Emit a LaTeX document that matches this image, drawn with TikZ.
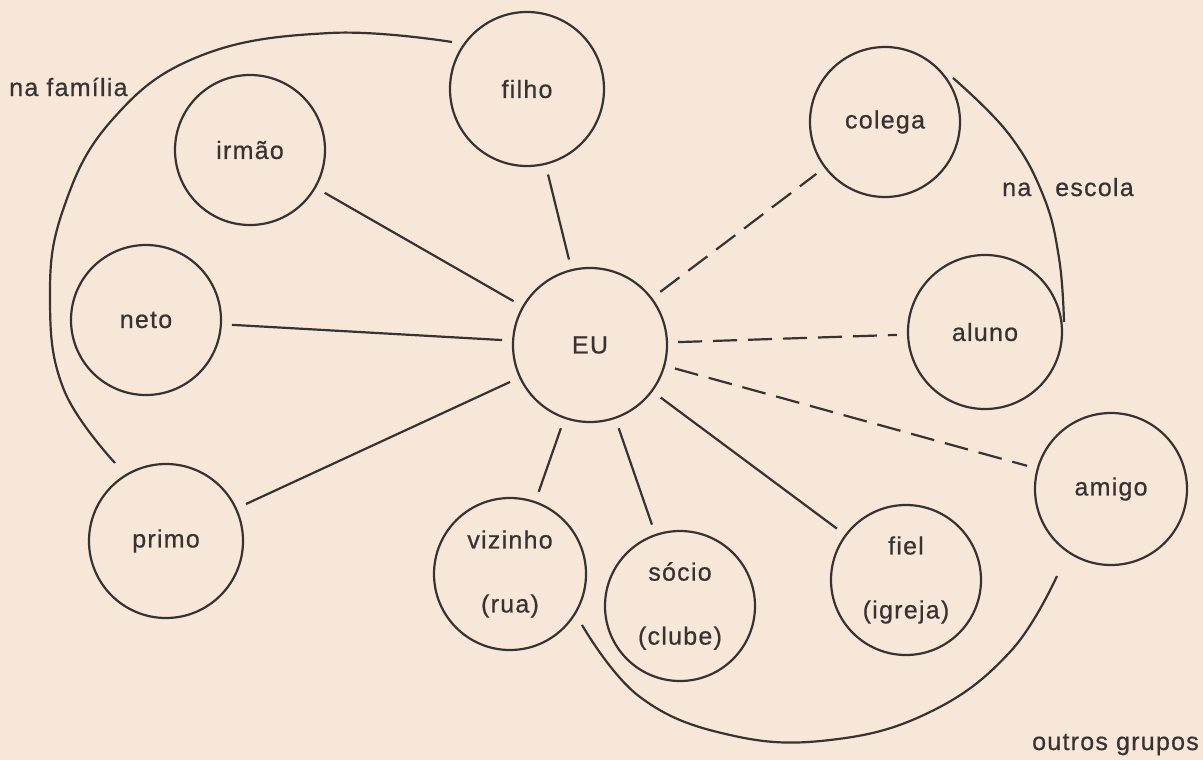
\documentclass[tikz,border=0pt]{standalone}
\usepackage{fontspec}
\setmainfont{Liberation Sans}[LetterSpace=5, FakeBold=0.6]
\definecolor{paper}{HTML}{F6E7D9}
\definecolor{ink}{HTML}{383232}
\begin{document}
\begin{tikzpicture}[x=1pt,y=-1pt,
  person/.style={circle, draw=ink, line width=2.2pt, inner sep=0pt,
    minimum size=#1, text=ink, align=center,
    font=\fontsize{25}{30}\selectfont},
  bond/.style={draw=ink, line width=2.2pt, shorten >=10pt, shorten <=10pt},
  weakbond/.style={bond, dash pattern=on 24pt off 11pt},
  orbit/.style={draw=ink, line width=2.2pt},
  tag/.style={inner sep=0pt, text=ink, font=\fontsize{25}{30}\selectfont}]
\useasboundingbox (0,0) rectangle (1203,760);
\fill[paper] (0,0) rectangle (1203,760);

% people around EU
\node[person=154] (filho)   at (527,89)  {filho};
\node[person=150] (irmao)   at (250,150) {irmão};
\node[person=150] (neto)    at (146,320) {neto};
\node[person=154] (primo)   at (166,541) {primo};
\node[person=154] (eu)      at (590,345) {EU};
\node[person=150] (colega)  at (885,122) {colega};
\node[person=154] (aluno)   at (985,332) {aluno};
\node[person=152] (amigo)   at (1111,489) {amigo};
\node[person=152] (vizinho) at (510,574) {vizinho\\[34pt](rua)};
\node[person=150] (socio)   at (680,606) {sócio\\[34pt](clube)};
\node[person=150] (fiel)    at (906,580) {fiel\\[34pt](igreja)};

% ties
\draw[bond] (eu) -- (filho);
\draw[bond] (eu) -- (irmao);
\draw[bond] (eu) -- (neto);
\draw[bond] (eu) -- (primo);
\draw[bond] (eu) -- (vizinho);
\draw[bond] (eu) -- (socio);
\draw[bond] (eu) -- (fiel);
\draw[weakbond] (eu) -- (colega);
\draw[weakbond] (eu) -- (aluno);
\draw[weakbond] (eu) -- (amigo);

% group boundaries
\draw[orbit] plot[smooth, tension=0.7] coordinates {
  (452,42) (330,33) (200,56) (112,120) (63,210) (50,300) (64,390) (115,463)};
\draw[orbit] plot[smooth, tension=0.7] coordinates {
  (953,78) (1008,133) (1043,195) (1059,258) (1064,322)};
\draw[orbit] plot[smooth, tension=0.7] coordinates {
  (582,625) (640,697) (730,735) (830,740) (930,712) (1010,652) (1057,576)};

% group names
\node[tag, anchor=base west] (familia) at (9,96) {na família};
\node[tag, anchor=base west] (na) at (1002,196) {na};
\node[tag, anchor=base west] (escola) at (1055,196) {escola};
\node[tag, anchor=base east] (outros) at (1199,750) {outros grupos};
\end{tikzpicture}
\end{document}
